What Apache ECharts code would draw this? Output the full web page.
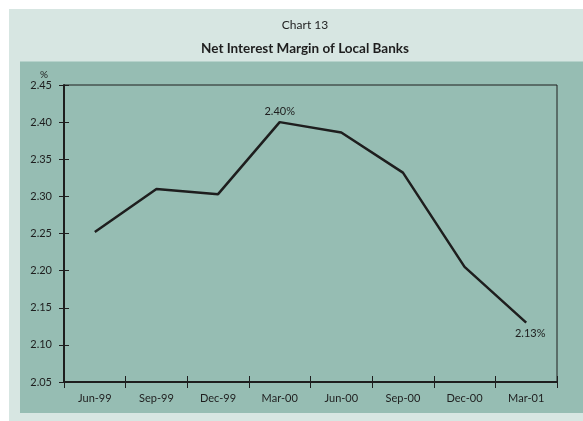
<!DOCTYPE html>
<html>
<head>
<meta charset="utf-8">
<script src="https://cdn.jsdelivr.net/npm/echarts@6/dist/echarts.min.js"></script>
<style>
  html, body { margin: 0; padding: 0; background: #ffffff; }
  #chart { width: 583px; height: 421px; }
</style>
</head>
<body>
<div id="chart"></div>
<script>
// Quarterly net interest margin of local banks (%)
const quarters = ['Jun-99', 'Sep-99', 'Dec-99', 'Mar-00', 'Jun-00', 'Sep-00', 'Dec-00', 'Mar-01'];
const marginValues = [2.252, 2.310, 2.303, 2.40, 2.386, 2.332, 2.205, 2.13];
const labelledPoints = { 3: 'top', 7: 'bottomRight' };
const yTicks = { min: 2.05, max: 2.45, step: 0.05 };

const FONT = 'Lato, "DejaVu Sans", sans-serif';
const INK = '#1e1e1e';

const chart = echarts.init(document.getElementById('chart'), null, { renderer: 'canvas' });

const seriesData = marginValues.map((v, i) => {
  const item = { value: v, label: { show: false } };
  if (labelledPoints[i] === 'top') {
    item.label = { show: true, position: 'top', distance: 5 };
  } else if (labelledPoints[i] === 'bottomRight') {
    item.label = { show: true, position: 'bottom', distance: 5, offset: [4, 0] };
  }
  return item;
});

const yFmt = v => v.toFixed(2);

chart.setOption({
  animation: false,
  backgroundColor: '#ffffff',
  graphic: [
    { type: 'rect', shape: { x: 9, y: 9, width: 580, height: 412 }, style: { fill: '#d7e6e2' }, z: -10 },
    { type: 'rect', shape: { x: 20, y: 61.5, width: 570, height: 351.5 }, style: { fill: '#96bdb3' }, z: -9 }
  ],
  title: [
    { text: 'Chart 13', left: 300, top: 14, textAlign: 'center',
      textStyle: { fontFamily: FONT, fontWeight: 'normal', fontSize: 12, color: INK } },
    { text: 'Net Interest Margin of Local Banks', left: 300, top: 37, textAlign: 'center',
      textStyle: { fontFamily: FONT, fontWeight: 'bold', fontSize: 13.5, color: INK } }
  ],
  grid: {
    left: 64, top: 85, right: 26, bottom: 39,
    show: true, borderColor: INK, borderWidth: 1, backgroundColor: 'transparent'
  },
  xAxis: [
    {
      type: 'category', data: quarters, boundaryGap: true, position: 'bottom',
      axisLine: { show: true, lineStyle: { color: INK, width: 2 } },
      axisTick: { show: true, inside: false, length: 6, alignWithLabel: false, lineStyle: { color: INK, width: 1 } },
      axisLabel: { margin: 11, fontFamily: FONT, fontSize: 11, color: INK },
      splitLine: { show: false }
    },
    {
      type: 'category', data: quarters, boundaryGap: true, position: 'bottom', offset: 0,
      axisLine: { show: false },
      axisTick: { show: true, inside: true, length: 6, lineStyle: { color: INK, width: 1 } },
      axisLabel: { show: false },
      splitLine: { show: false }
    }
  ],
  yAxis: [
    {
      type: 'value', min: yTicks.min, max: yTicks.max, interval: yTicks.step, position: 'left',
      name: '%', nameLocation: 'end', nameGap: 3,
      nameTextStyle: { fontFamily: FONT, fontSize: 10, color: INK, align: 'right', padding: [0, 16, 0, 0] },
      axisLine: { show: true, lineStyle: { color: INK, width: 2 } },
      axisTick: { show: true, inside: false, length: 5, lineStyle: { color: INK, width: 1 } },
      axisLabel: { margin: 12, fontFamily: FONT, fontSize: 11, color: INK, formatter: yFmt },
      splitLine: { show: false }
    },
    {
      type: 'value', min: yTicks.min, max: yTicks.max, interval: yTicks.step, position: 'left', offset: 0,
      axisLine: { show: false },
      axisTick: { show: true, inside: true, length: 5, lineStyle: { color: INK, width: 1 } },
      axisLabel: { show: false },
      splitLine: { show: false }
    }
  ],
  series: [{
    type: 'line',
    xAxisIndex: 0, yAxisIndex: 0,
    data: seriesData,
    symbol: 'circle',
    symbolSize: 1,
    showSymbol: true,
    itemStyle: { color: 'rgba(0,0,0,0)', borderWidth: 0 },
    lineStyle: { color: INK, width: 2.5 },
    label: {
      show: true, fontFamily: FONT, fontSize: 11, color: INK,
      formatter: p => p.value.toFixed(2) + '%'
    }
  }]
});
</script>
</body>
</html>
